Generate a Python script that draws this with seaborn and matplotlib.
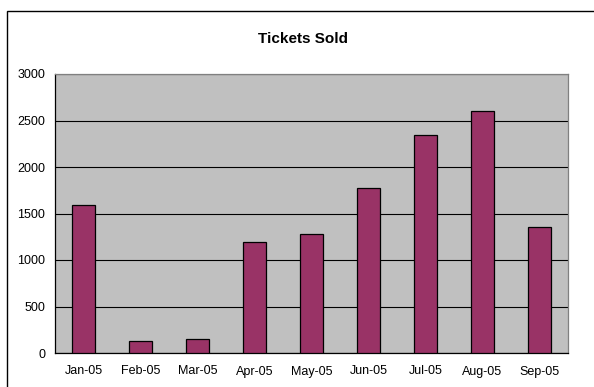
import matplotlib
matplotlib.use("Agg")
import matplotlib.pyplot as plt
import seaborn as sns
import pandas as pd
from matplotlib.patches import Rectangle

months = ["Jan-05", "Feb-05", "Mar-05", "Apr-05", "May-05",
          "Jun-05", "Jul-05", "Aug-05", "Sep-05"]
tickets = [1590, 125, 150, 1190, 1280, 1770, 2340, 2605, 1350]
y_ticks = [0, 500, 1000, 1500, 2000, 2500, 3000]

sns.set_style("white")
plt.rcParams["font.family"] = ["Liberation Sans", "DejaVu Sans"]
plt.rcParams["text.color"] = "black"
plt.rcParams["xtick.color"] = "black"
plt.rcParams["ytick.color"] = "black"
plt.rcParams["xtick.labelcolor"] = "black"
plt.rcParams["ytick.labelcolor"] = "black"

df = pd.DataFrame({"Month": months, "Tickets": tickets})

fig = plt.figure(figsize=(5.94, 3.87), dpi=100)
ax = fig.add_axes([55 / 594, 1 - 353 / 387, (568 - 55) / 594, (353 - 74) / 387])

sns.barplot(data=df, x="Month", y="Tickets", color="#993366", saturation=1,
            width=0.42, edgecolor="black", linewidth=0.9, ax=ax, zorder=3)

ax.set_facecolor("#C0C0C0")
ax.set_xlim(-0.5, len(months) - 0.5)
ax.set_ylim(0, 3000)
ax.set_yticks(y_ticks)
ax.set_yticklabels([str(v) for v in y_ticks], fontsize=9)
ax.yaxis.grid(True, color="black", linewidth=0.8, zorder=1)
ax.set_axisbelow(True)

# category labels centred, tick marks on the category boundaries
ax.set_xticks(range(len(months)))
ax.set_xticklabels(months, fontsize=9)
ax.set_xticks([i + 0.5 for i in range(-1, len(months))], minor=True)
ax.tick_params(axis="x", which="major", length=0, pad=9)
ax.tick_params(axis="x", which="minor", length=4, width=0.8, color="black", direction="out")
ax.tick_params(axis="y", length=4, width=0.8, color="black", direction="out", pad=3)
ax.set_xlabel("")
ax.set_ylabel("")

for side in ("top", "right"):
    ax.spines[side].set_color("#808080")
    ax.spines[side].set_linewidth(0.9)
for side in ("left", "bottom"):
    ax.spines[side].set_color("black")
    ax.spines[side].set_linewidth(0.9)
    ax.spines[side].set_visible(True)

fig.text(303 / 594, 1 - 39 / 387, "Tickets Sold", ha="center", va="center",
         fontsize=11, fontweight="bold", color="black")

# chart area frame
fig.patches.append(Rectangle((6.5 / 594, -0.05), 1.1, 1 - 10.5 / 387 + 0.05,
                             transform=fig.transFigure, fill=False,
                             edgecolor="black", linewidth=1.0))

fig.savefig("out.png", dpi=100)
